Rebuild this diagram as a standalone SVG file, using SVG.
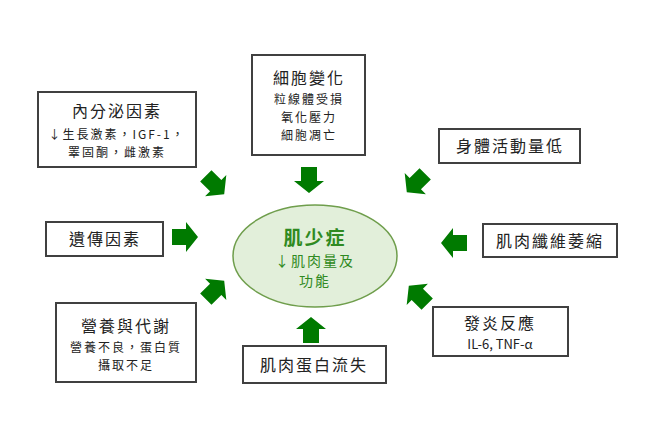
<svg xmlns="http://www.w3.org/2000/svg" width="651" height="434" viewBox="0 0 651 434">
<style>
.box{fill:#fff;stroke:#404040;stroke-width:2}
text{font-family:"Noto Sans CJK TC","Noto Sans CJK SC",sans-serif;text-anchor:middle;fill:#222}
.t{font-size:16px;letter-spacing:2px}
.s{font-size:12px;letter-spacing:2px}
.e{fill:#2f8a22}
.arr{fill:#007a00}
</style>
<defs>
<path id="ar" d="M-13,-8 H1 V-15 L13,0 L1,15 V8 H-13 Z"/>
</defs>
<rect width="651" height="434" fill="#fff"/>
<g id="center">
<ellipse cx="315" cy="256" rx="82" ry="51" fill="#e2efda" stroke="#6f9e4c" stroke-width="1.5"/>
<text class="e" x="315" y="245" font-size="19" font-weight="bold" letter-spacing="2">肌少症</text>
<text class="e" x="315" y="266" font-size="14" letter-spacing="2">↓肌肉量及</text>
<text class="e" x="315" y="286" font-size="14" letter-spacing="2">功能</text>
</g>
<g id="endocrine">
<rect class="box" x="38" y="92" width="158" height="75"/>
<text class="t" x="117" y="117">內分泌因素</text>
<text class="s" x="117" y="139" letter-spacing="1">↓生長激素，IGF-1，</text>
<text class="s" x="117" y="157">睪固酮，雌激素</text>
</g>
<g id="cell">
<rect class="box" x="252" y="55" width="113" height="100"/>
<text class="t" x="309" y="84">細胞變化</text>
<text class="s" x="309" y="104">粒線體受損</text>
<text class="s" x="309" y="122">氧化壓力</text>
<text class="s" x="309" y="140">細胞凋亡</text>
</g>
<g id="activity">
<rect class="box" x="439" y="129" width="141" height="34"/>
<text class="t" x="510" y="152">身體活動量低</text>
</g>
<g id="genetic">
<rect class="box" x="46" y="222" width="117" height="34"/>
<text class="t" x="105" y="245">遺傳因素</text>
</g>
<g id="atrophy">
<rect class="box" x="483" y="224" width="134" height="33"/>
<text class="t" x="550" y="247">肌肉纖維萎縮</text>
</g>
<g id="nutrition">
<rect class="box" x="56" y="303" width="140" height="79"/>
<text class="t" x="126" y="332">營養與代謝</text>
<text class="s" x="126" y="352" letter-spacing="1.5">營養不良，蛋白質</text>
<text class="s" x="126" y="370">攝取不足</text>
</g>
<g id="protein">
<rect class="box" x="243" y="346" width="143" height="37"/>
<text class="t" x="314" y="371">肌肉蛋白流失</text>
</g>
<g id="inflammation">
<rect class="box" x="433" y="307" width="135" height="49"/>
<text class="t" x="500" y="329">發炎反應</text>
<text x="500" y="349" font-size="13" font-family="Liberation Sans, sans-serif">IL-6, TNF-α</text>
</g>
<g id="connectors" class="arr">
<use href="#ar" transform="translate(215,185) rotate(45)"/>
<use href="#ar" transform="translate(309,180) rotate(90)"/>
<use href="#ar" transform="translate(416,183) rotate(135)"/>
<use href="#ar" transform="translate(185,237)"/>
<use href="#ar" transform="translate(454,243) rotate(180)"/>
<use href="#ar" transform="translate(215,290) rotate(-45)"/>
<use href="#ar" transform="translate(311,330) rotate(-90)"/>
<use href="#ar" transform="translate(418,295) rotate(-135)"/>
</g>
</svg>
